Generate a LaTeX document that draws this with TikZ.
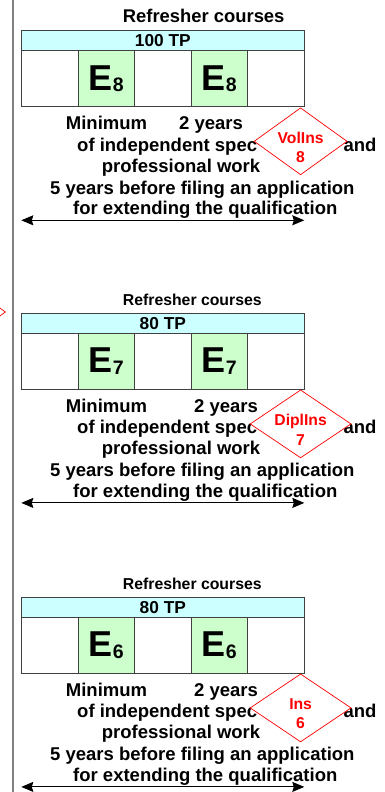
\documentclass[tikz,border=0pt]{standalone}
\usepackage{fontspec}
\setmainfont{Liberation Sans}
\usetikzlibrary{shapes.geometric,arrows.meta}
\definecolor{barcyan}{HTML}{CCFFFF}
\definecolor{cellgreen}{HTML}{CCFFCC}
\definecolor{edgegray}{HTML}{404040}
\definecolor{rulegray}{HTML}{808080}
\definecolor{redline}{HTML}{FF0000}
\newcommand\ecell[1]{\fontsize{36}{36}\selectfont E\raisebox{-1.5pt}{\fontsize{19.5}{19.5}\selectfont #1}}
\newcommand\refblk[9]{%
\begin{scope}[shift={(0,#2)}]
\node[titletext, font=\bfseries\fontsize{#3}{#3}\selectfont] (title#1) at (122.7,-8.2) {Refresher courses};
\node[barbox] (bar#1) at (162.8,10) {#4};
\node[cellbox] (ca#1) at (49.6,48) {};
\node[cellbox, fill=cellgreen] (cb#1) at (106.2,48) {\ecell{#5}};
\node[cellbox] (cc#1) at (162.8,48) {};
\node[cellbox, fill=cellgreen] (cd#1) at (219.4,48) {\ecell{#5}};
\node[cellbox] (ce#1) at (276.0,48) {};
\node[bodytext] (min#1) at (65.7,92.6) {Minimum};
\node[bodytext] (yrs#1) at (#7,92.6) {2 years};
\node[bodytext] (ind#1) at (77,113.8) {of independent spec};
\node[bodytext, anchor=east] (and#1) at (376.7,113.8) {and};
\node[bodytext] (prof#1) at (101.7,134.7) {professional work};
\node[bodytext] (five#1) at (50,156.7) {5 years before filing an application};
\node[bodytext] (ext#1) at (73,177.5) {for extending the qualification};
\coordinate (al#1) at (21.3,189.6);
\coordinate (ar#1) at (304.3,189.6);
\draw[span] (al#1) -- (ar#1);
\node[dia, minimum width=#8pt, minimum height=#9pt] (d#1) at (300.6,110.6) {};
\node[diatext] (dt#1) at (300.6,116.4) {#6};
\end{scope}}
\tikzset{
 titletext/.style={anchor=base west, inner sep=0},
 barbox/.style={draw=edgegray, line width=0.8pt, fill=barcyan, minimum width=283pt, minimum height=20pt, inner sep=0, font=\bfseries\fontsize{17.3}{17.3}\selectfont},
 cellbox/.style={draw=edgegray, line width=0.8pt, fill=white, minimum width=56.6pt, minimum height=56pt, inner sep=0, font=\bfseries},
 bodytext/.style={anchor=west, inner sep=0, text height=13.2pt, text depth=0pt, font=\bfseries\fontsize{18.5}{20.5}\selectfont},
 span/.style={line width=1pt, {Stealth[length=12pt,width=10pt,inset=1.5pt]}-{Stealth[length=12pt,width=10pt,inset=1.5pt]}},
 dia/.style={diamond, draw=redline, line width=0.7pt, fill=white, inner sep=0},
 diatext/.style={align=center, text=redline, inner sep=0, font=\bfseries\fontsize{15.7}{19.3}\selectfont},
}
\begin{document}
\begin{tikzpicture}[x=1pt,y=-1pt]
\useasboundingbox (0,0) rectangle (384,792);
\coordinate (lt) at (13.3,0);
\coordinate (lb) at (13.3,792);
\draw[rulegray, line width=2pt] (lt) -- (lb);
\node[dia, minimum width=93pt, minimum height=67pt] (dleft) at (-41,312) {};
\refblk{1}{30.7}{18.4}{100 TP}{8}{VolIns\\8}{179}{93}{67}
\refblk{2}{313.3}{15.8}{80 TP}{7}{DiplIns\\7}{194}{101}{68}
\refblk{3}{597.3}{15.8}{80 TP}{6}{Ins\\6}{194}{101}{68}
\end{tikzpicture}
\end{document}
